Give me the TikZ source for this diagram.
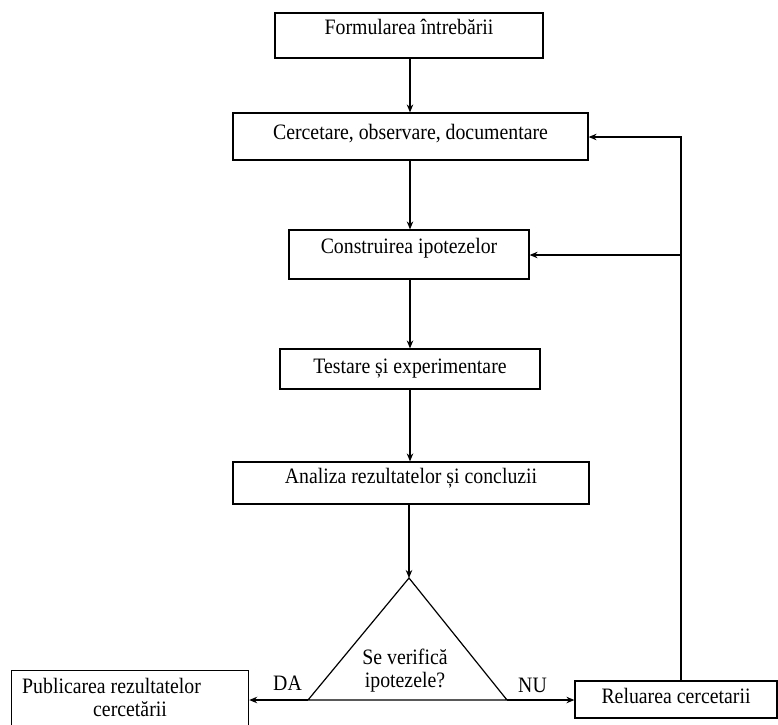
\documentclass[tikz,border=0pt]{standalone}
\usepackage{fontspec}
\setmainfont{Liberation Serif}
\newfontfamily\stepfont[FakeStretch=0.9]{Liberation Serif}
\usetikzlibrary{arrows.meta}
\begin{document}
\begin{tikzpicture}[x=1pt,y=-1pt,
  box/.style={draw, line width=1.2pt, inner sep=0pt, font=\stepfont\fontsize{22}{23}\selectfont},
  lbl/.style={inner sep=0pt, font=\stepfont\fontsize{22}{23}\selectfont},
  arr/.style={line width=1.2pt, -{Stealth[length=8pt,width=6.5pt]}},
  ln/.style={line width=1.2pt}]
\useasboundingbox (0,0) rectangle (778,724);
\clip (0,0) rectangle (778,724);

% main column of steps
\node[box, minimum width=268pt, text height=21pt, text depth=24pt] (q) at (409,35.5) {Formularea întrebării};
\node[box, minimum width=355pt, text height=26pt, text depth=21pt] (c) at (410.5,136.5) {Cercetare, observare, documentare};
\node[box, minimum width=240pt, text height=23pt, text depth=26pt] (h) at (409,254.5) {Construirea ipotezelor};
\node[box, minimum width=260pt, text height=24pt, text depth=16pt] (t) at (410,369) {Testare și experimentare};
\node[box, minimum width=356pt, text height=21pt, text depth=21pt] (a) at (411,483) {Analiza rezultatelor și concluzii};

% decision triangle
\coordinate (apex) at (409,578);
\coordinate (bl) at (308,700);
\coordinate (br) at (507,700);
\draw[ln, line join=miter] (apex) -- (bl) -- (br) -- cycle;
\node[lbl, align=center] (dec) at (405,671) {Se verifică\\ipotezele?};

% outcomes
\node[box, minimum width=237pt, minimum height=80pt, anchor=north west] (pub) at (11,670) {};
\node[lbl, anchor=base west] (pub1) at (22,693) {Publicarea rezultatelor};
\node[lbl, anchor=base west] (pub2) at (93,716) {cercetării};
\node[box, minimum width=202pt, text height=22pt, text depth=15pt] (rel) at (676,699.5) {Reluarea cercetarii};

\node[lbl, anchor=base west] (da) at (273,690) {DA};
\node[lbl, anchor=base west] (nu) at (518,692) {NU};

% flow arrows
\draw[arr] (q.south -| 410,0) -- (410,0 |- c.north);
\draw[arr] (c.south -| 410,0) -- (410,0 |- h.north);
\draw[arr] (h.south -| 410,0) -- (410,0 |- t.north);
\draw[arr] (t.south -| 410,0) -- (410,0 |- a.north);
\draw[arr] (a.south -| apex) -- (apex);
\draw[arr] (bl) -- (bl -| pub.east);
\draw[arr] (br) -- (br -| rel.west);

% feedback loop
\coordinate (fb) at (681,137);
\coordinate (fb2) at (681,255);
\draw[arr] (fb |- rel.north) -- (fb) -- (fb -| c.east);
\draw[arr] (fb2) -- (fb2 -| h.east);
\end{tikzpicture}
\end{document}
